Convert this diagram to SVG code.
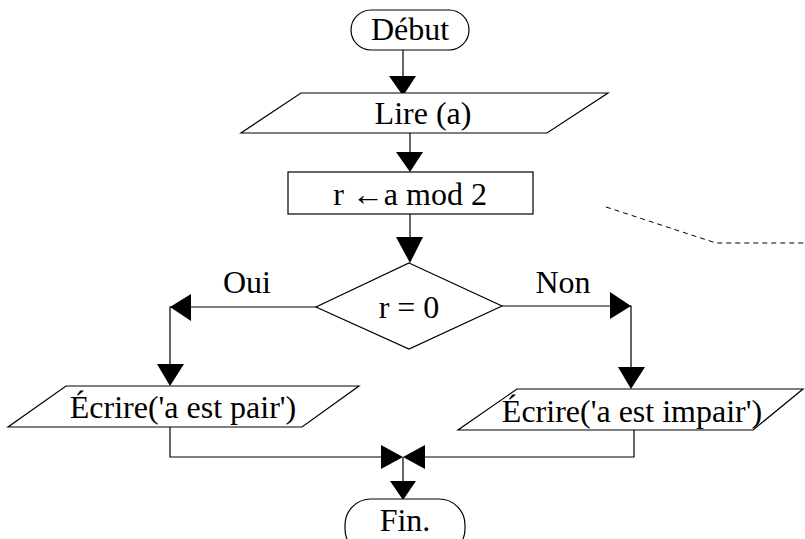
<svg xmlns="http://www.w3.org/2000/svg" width="805" height="539" viewBox="0 0 805 539">
<style>
.s{fill:#fff;stroke:#000;stroke-width:1.2}
.t{font-family:"Liberation Serif","Times New Roman",serif;font-size:32px;fill:#000;text-anchor:middle}
.c{fill:none;stroke:#000;stroke-width:1.2}
.h{fill:#000;stroke:none}
</style>
<rect width="805" height="539" fill="#fff"/>
<g id="connectors">
<path class="c" d="M403,50 V92"/>
<path class="h" d="M389,76 L416,76 L403,96 Z"/>
<path class="c" d="M410,133 V168"/>
<path class="h" d="M396,152 L423,152 L410,172 Z"/>
<path class="c" d="M410,214 V259"/>
<path class="h" d="M396,237 L423,237 L410,263 Z"/>
<path class="c" d="M316,307 H170 V382"/>
<path class="h" d="M170,307 L191,294 L191,321 Z"/>
<path class="h" d="M157,364 L184,364 L170,386 Z"/>
<path class="c" d="M502,306 H631 V385"/>
<path class="h" d="M631,306 L610,292 L610,319 Z"/>
<path class="h" d="M618,367 L645,367 L631,389 Z"/>
<path class="c" d="M170,427 V457 H400"/>
<path class="h" d="M403,457 L381,445 L381,469 Z"/>
<path class="c" d="M634,430 V457 H406"/>
<path class="h" d="M403,457 L425,445 L425,469 Z"/>
<path class="c" d="M403,457 V496"/>
<path class="h" d="M390,481 L416,481 L403,500 Z"/>
<path d="M606,207 L716,243 H805" fill="none" stroke="#000" stroke-width="1" stroke-dasharray="5,4"/>
</g>
<g id="debut">
<rect class="s" x="351" y="10" width="118" height="40" rx="20" ry="20"/>
<text class="t" x="410" y="40">Début</text>
</g>
<g id="lire">
<path class="s" d="M301,93 H608 L547,133 H241 Z"/>
<text class="t" x="423" y="124">Lire (a)</text>
</g>
<g id="calc">
<rect class="s" x="288" y="172" width="245" height="42"/>
<text class="t" x="410" y="205">r ←a mod 2</text>
</g>
<g id="test">
<path class="s" d="M409,263 L502,306 L409,349 L316,307 Z"/>
<text class="t" x="409" y="318">r = 0</text>
</g>
<g id="label-oui">
<text class="t" x="247" y="293">Oui</text>
</g>
<g id="label-non">
<text class="t" x="563" y="293">Non</text>
</g>
<g id="pair">
<path class="s" d="M66,386 H359 L302,427 H8 Z"/>
<text class="t" x="183" y="418">Écrire('a est pair')</text>
</g>
<g id="impair">
<path class="s" d="M517,389 H803 L753,430 H458 Z"/>
<text class="t" x="632" y="422">Écrire('a est impair')</text>
</g>
<g id="fin">
<rect class="s" x="345" y="499" width="120" height="56" rx="26" ry="26"/>
<text class="t" x="405" y="531">Fin.</text>
</g>
</svg>
